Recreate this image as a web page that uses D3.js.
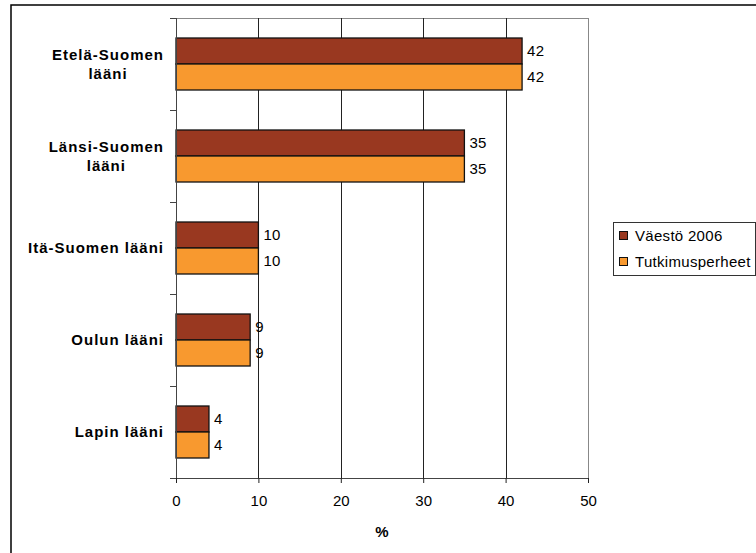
<!DOCTYPE html>
<html><head><meta charset="utf-8">
<script src="https://cdn.jsdelivr.net/npm/d3@7"></script>
<style>body{margin:0;background:#fff}svg{display:block;font-family:"Liberation Sans",Arial,sans-serif}</style>
</head><body><svg id="c" width="756" height="553"></svg>
<script>
const categories = [["Etelä-Suomen","lääni"],["Länsi-Suomen","lääni"],["Itä-Suomen lääni"],["Oulun lääni"],["Lapin lääni"]];
const seriesNames = ["Väestö 2006","Tutkimusperheet"];
const vaesto = [42,35,10,9,4];
const tutkimus = [42,35,10,9,4];
const xTicks = [0,10,20,30,40,50];
const colors = ["#993820","#F8992F"];

const svg = d3.select("#c");
svg.append("rect").attr("x",11).attr("y",5).attr("width",800).attr("height",600)
  .attr("fill","#fff").attr("stroke","#000").attr("stroke-width",1.5);

const L=176,R=588,T=18,B=478;
const x = d3.scaleLinear().domain([0,50]).range([L,R]);
const y = d3.scaleBand().domain(d3.range(categories.length)).range([T,B]);
const inner = d3.scaleBand().domain([0,1]).range([0,52]);
const barOff = (y.bandwidth()-52)/2;

// plot border top/right
svg.append("line").attr("x1",L).attr("x2",R).attr("y1",T+0.5).attr("y2",T+0.5).attr("stroke","#888");
svg.append("line").attr("x1",R+0.5).attr("x2",R+0.5).attr("y1",T).attr("y2",B).attr("stroke","#888");
// gridlines
svg.selectAll(".grid").data(xTicks.slice(1,-1)).join("line")
  .attr("x1",d=>Math.round(x(d))+0.5).attr("x2",d=>Math.round(x(d))+0.5)
  .attr("y1",T).attr("y2",B).attr("stroke","#222");

// bars
const series=[vaesto,tutkimus];
series.forEach((vals,si)=>{
  svg.selectAll(".b"+si).data(vals).join("rect")
    .attr("x",x(0)).attr("y",(d,i)=>y(i)+barOff+inner(si))
    .attr("width",d=>x(d)-x(0)).attr("height",inner.bandwidth())
    .attr("fill",colors[si]).attr("stroke","#111").attr("stroke-width",1.3);
  svg.selectAll(".l"+si).data(vals).join("text")
    .attr("x",d=>x(d)+5).attr("y",(d,i)=>y(i)+barOff+inner(si)+inner.bandwidth()/2)
    .attr("dy","0.36em").attr("font-size",15).attr("letter-spacing",0.3).text(d=>d);
});

// x axis
const xa = svg.append("g").attr("transform",`translate(0,${B})`)
  .call(d3.axisBottom(x).tickValues(xTicks).tickSize(5).tickPadding(12));
xa.select(".domain").attr("stroke","#444").attr("d",`M${L-6},0.5H${R}`);
xa.selectAll(".tick line").attr("stroke","#222");
xa.selectAll("text").attr("font-size",15).attr("font-family","Liberation Sans, Arial, sans-serif").attr("fill","#000");

// y axis
const yEdges = d3.range(categories.length+1).map(i=>T+i*y.step());
svg.append("line").attr("x1",L+0.5).attr("x2",L+0.5).attr("y1",T).attr("y2",B).attr("stroke","#444");
svg.selectAll(".yt").data(yEdges).join("line")
  .attr("x1",L-6).attr("x2",L).attr("y1",d=>Math.round(d)+0.5).attr("y2",d=>Math.round(d)+0.5).attr("stroke","#444");

// category labels
categories.forEach((lines,i)=>{
  const cy = y(i)+y.bandwidth()/2;
  const g = svg.append("g");
  const lh = 19;
  const ts = lines.map((t,k)=>g.append("text").attr("font-size",15).attr("font-weight","bold")
    .attr("letter-spacing",1).attr("y",cy+(k-(lines.length-1)/2)*lh).attr("dy","0.36em").text(t));
  const w = d3.max(ts,t=>t.node().getComputedTextLength());
  const cx = 164 - w/2;
  ts.forEach(t=>t.attr("x",cx).attr("text-anchor","middle"));
});

// x title
svg.append("text").attr("x",(L+R)/2).attr("y",532).attr("dy","0.36em").attr("text-anchor","middle")
  .attr("font-size",15).attr("font-weight","bold").text("%");

// legend
const lg = svg.append("g");
lg.append("rect").attr("x",613.5).attr("y",222.5).attr("width",142).attr("height",53)
  .attr("fill","#fff").attr("stroke","#333");
seriesNames.forEach((n,i)=>{
  const cy = 236+i*26;
  lg.append("rect").attr("x",619.5).attr("y",cy-4.5).attr("width",8).attr("height",8)
    .attr("fill",colors[i]).attr("stroke","#111");
  lg.append("text").attr("x",635).attr("y",cy).attr("dy","0.36em").attr("font-size",15)
    .attr("letter-spacing",0.3).text(n);
});
</script></body></html>
